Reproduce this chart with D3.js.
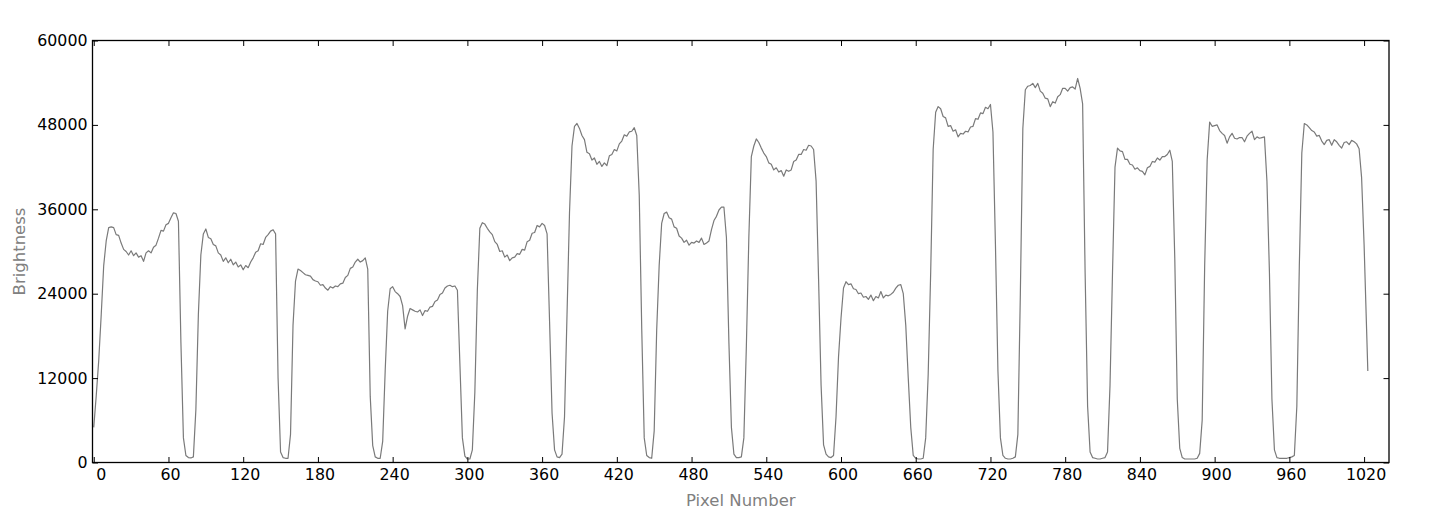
<!DOCTYPE html>
<html><head><meta charset="utf-8">
<script src="https://cdn.jsdelivr.net/npm/d3@7"></script>
<style>body{margin:0;background:#fff}svg{display:block}text{font-family:"DejaVu Sans",sans-serif}</style>
</head><body><svg id="chart" width="1429" height="516"></svg>
<script>
// Brightness sampled every 2 pixel numbers (0..1022) plus last pixel 1023
const brightness = [
5000, 9500, 14500, 21000, 28000, 31500, 33400, 33500, 33400, 32400,
32300, 31200, 30300, 30000, 29500, 30100, 29400, 29800, 29200, 29400,
28600, 29800, 30100, 29800, 30600, 30900, 31900, 33000, 32900, 33800,
34000, 34800, 35500, 35400, 34300, 17000, 3500, 1000, 700, 650,
800, 7500, 21000, 29500, 32500, 33200, 32000, 31800, 31000, 30800,
29800, 29500, 28600, 29100, 28400, 28900, 28100, 28500, 27800, 28100,
27400, 28000, 27700, 28500, 29100, 29900, 30100, 31100, 31000, 32000,
32400, 32900, 33100, 32500, 12000, 1500, 700, 600, 600, 4000,
19500, 25800, 27500, 27300, 27000, 26700, 26600, 26500, 26000, 25800,
25700, 25200, 25300, 24800, 24500, 25000, 24800, 25100, 25000, 25400,
25500, 26300, 26600, 27600, 27800, 28500, 28900, 28500, 28700, 29100,
27500, 9400, 2400, 800, 600, 600, 3000, 13000, 21500, 24700,
25000, 24300, 24000, 23600, 22300, 19000, 20800, 21900, 21700, 21500,
21400, 21700, 20900, 21600, 21500, 22100, 22200, 22900, 23100, 23900,
24100, 24800, 25100, 25200, 25000, 25100, 24500, 14000, 3500, 900,
500, 500, 1800, 10000, 24500, 33300, 34100, 33900, 33300, 32800,
32400, 31400, 31000, 30000, 30100, 29200, 29500, 28700, 29100, 29200,
29700, 29600, 30300, 30200, 31400, 31600, 32600, 32700, 33700, 33500,
34000, 33700, 32500, 20000, 7000, 1800, 800, 700, 1200, 6500,
21000, 35500, 45000, 47800, 48200, 47500, 46500, 45900, 44100, 43900,
43000, 43300, 42400, 42800, 42100, 42600, 42200, 43600, 43800, 44500,
44300, 45300, 45700, 46600, 46400, 47000, 47100, 47600, 46500, 38000,
19000, 3500, 1000, 700, 600, 4500, 18800, 28000, 34000, 35400,
35600, 34800, 34600, 33500, 33300, 32200, 31900, 31300, 31600, 30900,
31300, 31200, 31500, 31300, 31900, 31000, 31200, 31500, 33100, 34400,
35000, 35900, 36300, 36300, 32000, 17000, 5000, 1200, 700, 700,
800, 3500, 16500, 32000, 43500, 45000, 46000, 45500, 44700, 44000,
43500, 42600, 42400, 41600, 41900, 41300, 41500, 40700, 41600, 41400,
41600, 42800, 43000, 43800, 43800, 44500, 44400, 45100, 45000, 44500,
40000, 26000, 11000, 2500, 1200, 800, 700, 1000, 6500, 15000,
20500, 24800, 25700, 25300, 25400, 24700, 24600, 24000, 24100, 23500,
23600, 23200, 23800, 23000, 23600, 23400, 24300, 23400, 23800, 23700,
23900, 24200, 24800, 25200, 25300, 24000, 19500, 12000, 5000, 1000,
600, 500, 500, 600, 3500, 12500, 27000, 44500, 49800, 50600,
50300, 49200, 49000, 47800, 47900, 47100, 47300, 46300, 46800, 46700,
47100, 47000, 47700, 47800, 48900, 48800, 49700, 49600, 50500, 50300,
50900, 47000, 31000, 13000, 3500, 1000, 600, 500, 500, 600,
800, 4000, 24000, 47500, 53000, 53500, 53600, 53900, 53300, 53900,
52800, 52500, 51800, 51700, 50600, 51300, 51100, 52000, 52300, 53200,
53200, 52800, 53300, 53400, 53100, 54600, 53200, 51000, 27000, 8000,
1500, 700, 600, 500, 500, 600, 700, 1500, 11000, 27000,
42000, 44700, 44300, 44200, 43100, 43100, 42400, 42300, 41700, 41900,
41500, 41400, 40900, 41900, 42100, 42800, 42700, 43300, 43000, 43500,
43500, 43800, 44400, 42800, 29000, 9000, 2000, 700, 500, 500,
500, 500, 500, 600, 1300, 6000, 28000, 43000, 48400, 47800,
47900, 48000, 47200, 46800, 46500, 45400, 46300, 46800, 46100, 46000,
46200, 46200, 45600, 46400, 46800, 47100, 45900, 46300, 46100, 46200,
46300, 40000, 27000, 9000, 1800, 700, 600, 600, 600, 600,
700, 800, 1000, 8000, 28000, 44000, 48200, 48000, 47600, 47200,
47000, 46400, 46500, 45700, 45200, 45800, 45900, 45100, 45900, 45600,
45100, 44700, 45500, 45600, 45200, 45800, 45600, 45300, 44600, 40500,
31000, 19000, 13000
];
const pixelNumbers = [...d3.range(0, 1023, 2), 1023];
const xTicks = [0, 60, 120, 180, 240, 300, 360, 420, 480, 540, 600, 660, 720, 780, 840, 900, 960, 1020];
const yTicks = [0, 12000, 24000, 36000, 48000, 60000];
const xLabel = "Pixel Number";
const yLabel = "Brightness";

const svg = d3.select("#chart");
const L = 92.5, R = 1389, T = 40.5, B = 462.5;
const x = d3.scaleLinear().domain([-1, 1040]).range([L, R]);
const y = d3.scaleLinear().domain([0, 60000]).range([B, T]);
const tk = 5.5;

const data = pixelNumbers.map((p, i) => ({p, v: brightness[i]}));

svg.append("path").datum(data)
  .attr("fill", "none").attr("stroke", "#7a7a7a").attr("stroke-width", 1.2)
  .attr("stroke-linejoin", "round")
  .attr("d", d3.line().x(d => x(d.p)).y(d => y(d.v)));

const fmt = d3.format("d");
const gx = svg.append("g").attr("transform", `translate(0,${B})`)
  .call(d3.axisBottom(x).tickValues(xTicks).tickSizeInner(-tk).tickSizeOuter(0).tickPadding(6.5).tickFormat(fmt));
const gy = svg.append("g").attr("transform", `translate(${L},0)`)
  .call(d3.axisLeft(y).tickValues(yTicks).tickSizeInner(-tk).tickSizeOuter(0).tickPadding(5).tickFormat(fmt));
const gt = svg.append("g").attr("transform", `translate(0,${T})`)
  .call(d3.axisTop(x).tickValues(xTicks).tickSizeInner(-tk).tickSizeOuter(0).tickFormat(""));
const gr = svg.append("g").attr("transform", `translate(${R},0)`)
  .call(d3.axisRight(y).tickValues(yTicks).tickSizeInner(-tk).tickSizeOuter(0).tickFormat(""));

[gx, gy, gt, gr].forEach(g => {
  g.select(".domain").remove();
  g.selectAll(".tick line").attr("stroke", "#000").attr("stroke-width", 1);
  g.selectAll(".tick text").attr("fill", "#000").style("font-size", "15.8px")
    .style("font-family", "'DejaVu Sans', sans-serif");
});
gx.selectAll(".tick text").attr("dx", d => d === 0 ? 7 : 1.5);

svg.append("rect").attr("x", L).attr("y", T).attr("width", R - L).attr("height", B - T)
  .attr("fill", "none").attr("stroke", "#000").attr("stroke-width", 1.3);

svg.append("text").attr("x", (L + R) / 2).attr("y", 506).attr("text-anchor", "middle")
  .attr("fill", "#808080").style("font-size", "16.5px").text(xLabel);
svg.append("text").attr("transform", `translate(24.5,${(T + B) / 2}) rotate(-90)`)
  .attr("text-anchor", "middle").attr("fill", "#808080").style("font-size", "16.5px").text(yLabel);
</script></body></html>
